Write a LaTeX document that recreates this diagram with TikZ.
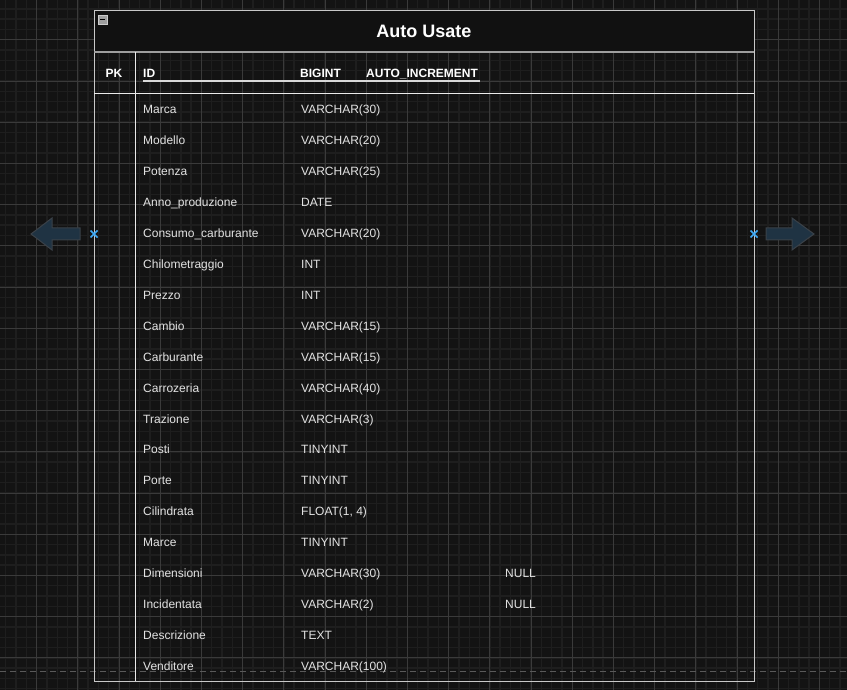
\documentclass[tikz,border=0pt]{standalone}
\usepackage{fontspec}
\setmainfont{Liberation Sans}
\usetikzlibrary{arrows.meta,positioning,calc}

\definecolor{canvas}{HTML}{131313}
\definecolor{gridminor}{HTML}{1E1E1E}
\definecolor{gridmajor}{HTML}{3A3A3A}
\definecolor{titlefill}{HTML}{111111}
\definecolor{rowtext}{HTML}{E2E2E2}
\definecolor{framecol}{HTML}{C8C8C8}
\definecolor{hoverfill}{HTML}{1F3343}
\definecolor{hoverdraw}{HTML}{3A4148}
\definecolor{pin}{HTML}{3FA9F5}

\begin{document}
\begin{tikzpicture}[
  x=1pt, y=-1pt,
  field/.style={anchor=base west, inner sep=0pt, text=rowtext, font=\fontsize{12}{14}\selectfont},
  keyfield/.style={field, text=white, font=\bfseries\fontsize{12}{14}\selectfont},
  hover/.style={fill=hoverfill, draw=hoverdraw, line width=1pt},
  pinmark/.style={draw=pin, line width=1.6pt}
]
\useasboundingbox (0,0) rectangle (847,690);
\fill[canvas] (0,0) rectangle (847,690);

% background grid
\foreach \gx in {0,...,82}
  \draw[gridminor, line width=1.4pt] ({5.7+10.3*\gx},0) -- ({5.7+10.3*\gx},690);
\foreach \gy in {0,...,66}
  \draw[gridminor, line width=1.4pt] (0,{8.9+10.3*\gy}) -- (847,{8.9+10.3*\gy});
\foreach \gx in {0,...,20}
  \draw[gridmajor, line width=0.9pt] ({36.6+41.2*\gx},0) -- ({36.6+41.2*\gx},690);
\foreach \gy in {-1,...,16}
  \draw[gridmajor, line width=0.9pt] (0,{39.8+41.2*\gy}) -- (847,{39.8+41.2*\gy});

% page break
\draw[gray!70!black, line width=1pt, dash pattern=on 6pt off 4pt] (0,671) -- (847,671);

% table frame
\fill[titlefill] (94,11) rectangle (754,52);
\draw[framecol, line width=1pt] (94,11) rectangle (754,681);
\draw[gray!75, line width=1.6pt] (94,52) -- (754,52);
\draw[white!92!black, line width=1pt] (94,94) -- (754,94);
\draw[white!92!black, line width=1pt] (135,52) -- (135,681);

% collapse button
\draw[gray!40, fill=gray!75] (98,15) rectangle (107,24);
\draw[black, line width=1.2pt] (100,19.5) -- (105,19.5);

\node[text=white, font=\bfseries\fontsize{18}{20}\selectfont] (title) at (424,31.5) {Auto Usate};

% primary key row
\node[keyfield, anchor=base] (pk) at (114,78) {PK};
\node[keyfield] (idname) at (143,78) {ID};
\node[keyfield] (idtype) at (300,78) {BIGINT};
\node[keyfield] (idextra) at (366,78) {AUTO\_INCREMENT};
\draw[white!85!black, line width=1.2pt] (143,81) -- (480,81);

% columns
\foreach \fname/\ftype [count=\i] in {
  Marca/VARCHAR(30), Modello/VARCHAR(20), Potenza/VARCHAR(25),
  Anno\_produzione/DATE, Consumo\_carburante/VARCHAR(20),
  Chilometraggio/INT, Prezzo/INT, Cambio/VARCHAR(15),
  Carburante/VARCHAR(15), Carrozeria/VARCHAR(40), Trazione/VARCHAR(3),
  Posti/TINYINT, Porte/TINYINT, Cilindrata/{FLOAT(1, 4)}, Marce/TINYINT,
  Dimensioni/VARCHAR(30), Incidentata/VARCHAR(2), Descrizione/TEXT,
  Venditore/VARCHAR(100)} {
  \node[field] (f\i) at (143,{113.5+30.95*(\i-1)}) {\fname};
  \node[field] (t\i) at (301,{113.5+30.95*(\i-1)}) {\ftype};
}
\node[field] (null16) at (505,{113.5+30.95*15}) {NULL};
\node[field] (null17) at (505,{113.5+30.95*16}) {NULL};

% hover arrows and connection pins
\coordinate (pinL) at (94,234);
\coordinate (pinR) at (754,234);
\draw[hover] (31,234) -- (52,218) -- (52,228) -- (80,228) -- (80,240)
  -- (52,240) -- (52,250) -- cycle;
\draw[hover] (814,234) -- (792,218) -- (792,228) -- (766,228) -- (766,240)
  -- (792,240) -- (792,250) -- cycle;
\draw[pinmark] ($(pinL)+(-3.5,-3.5)$) -- ($(pinL)+(3.5,3.5)$)
  ($(pinL)+(-3.5,3.5)$) -- ($(pinL)+(3.5,-3.5)$);
\draw[pinmark] ($(pinR)+(-3.5,-3.5)$) -- ($(pinR)+(3.5,3.5)$)
  ($(pinR)+(-3.5,3.5)$) -- ($(pinR)+(3.5,-3.5)$);
\end{tikzpicture}
\end{document}
